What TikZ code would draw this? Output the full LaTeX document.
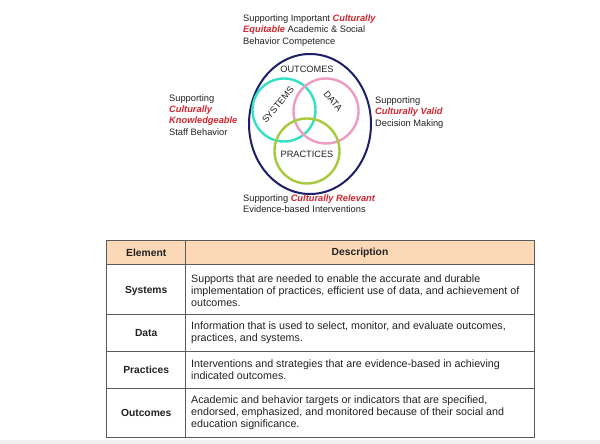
\documentclass[tikz,border=0pt]{standalone}
\usepackage{fontspec}
\setmainfont{Liberation Sans}
\definecolor{navy}{HTML}{1E1E6A}
\definecolor{cyanc}{HTML}{33E0C2}
\definecolor{pinkc}{HTML}{EE9CC2}
\definecolor{greenc}{HTML}{A9C93C}
\definecolor{redc}{HTML}{D42630}
\definecolor{peach}{HTML}{FBD8B6}
\definecolor{gridc}{HTML}{5A5A5A}
\definecolor{txt}{HTML}{222222}
\newcommand{\cul}[1]{\textcolor{redc}{\bfseries\itshape #1}}
\tikzset{
  ring/.style={line width=2.4pt},
  vlabel/.style={font=\fontsize{9.2}{10}\selectfont, text=txt, inner sep=0pt},
  side/.style={font=\fontsize{9.3}{11.3}\selectfont, text=txt, align=left, anchor=west, inner sep=0pt},
  cellbox/.style={draw=gridc, line width=0.8pt},
  headtxt/.style={font=\fontsize{10.3}{12}\selectfont\bfseries, text=txt, inner sep=0pt},
  elemtxt/.style={font=\fontsize{10.3}{12}\selectfont\bfseries, text=txt, inner sep=0pt},
  desctxt/.style={font=\fontsize{10.7}{12}\selectfont, text=txt, align=left, anchor=west, inner sep=0pt}
}
\begin{document}
\begin{tikzpicture}[x=1pt,y=-1pt]
\useasboundingbox (0,0) rectangle (600,444);
\fill[white] (0,0) rectangle (600,444);
\fill[gray!12] (0,440) rectangle (600,444);

% Venn diagram
\draw[navy, line width=2pt] (310,124) ellipse [x radius=61, y radius=70];
\draw[ring, cyanc] (284,110) circle [radius=31.5];
\draw[ring, pinkc] (326,111) circle [radius=32.5];
\draw[ring, greenc] (307,151) circle [radius=32.5];
\node[vlabel] (outl) at (307,69) {OUTCOMES};
\node[vlabel, rotate=50] (sysl) at (278,105) {SYSTEMS};
\node[vlabel, rotate=-50] (datl) at (333,101) {DATA};
\node[vlabel] (pral) at (307,154) {PRACTICES};

% surrounding texts
\node[side] (top) at (243,30.5) {Supporting Important \cul{Culturally}\\\cul{Equitable} Academic \& Social\\Behavior Competence};
\node[side] (left) at (169,115) {Supporting\\\cul{Culturally}\\\cul{Knowledgeable}\\Staff Behavior};
\node[side] (right) at (375,112.5) {Supporting\\\cul{Culturally Valid}\\Decision Making};
\node[side] (bottom) at (243,204) {Supporting \cul{Culturally Relevant}\\Evidence-based Interventions};

% table
\fill[peach] (106.7,240.7) rectangle (534.3,264.7);
\draw[cellbox] (106.7,240.7) rectangle (534.3,437.3);
\draw[cellbox] (185.7,240.7) -- (185.7,437.3);
\draw[cellbox] (106.7,264.7) -- (534.3,264.7);
\draw[cellbox] (106.7,314.3) -- (534.3,314.3);
\draw[cellbox] (106.7,351.7) -- (534.3,351.7);
\draw[cellbox] (106.7,388.3) -- (534.3,388.3);

\node[headtxt] (h1) at (146.2,252.7) {Element};
\node[headtxt] (h2) at (360,252.7) {Description};

\node[elemtxt] (e1) at (146.2,290.5) {Systems};
\node[elemtxt] (e2) at (146.2,333) {Data};
\node[elemtxt] (e3) at (146.2,370) {Practices};
\node[elemtxt] (e4) at (146.2,413) {Outcomes};

\node[desctxt] (d1) at (191,290.5) {Supports that are needed to enable the accurate and durable\\implementation of practices, efficient use of data, and achievement of\\outcomes.};
\node[desctxt] (d2) at (191,333) {Information that is used to select, monitor, and evaluate outcomes,\\practices, and systems.};
\node[desctxt] (d3) at (191,370) {Interventions and strategies that are evidence-based in achieving\\indicated outcomes.};
\node[desctxt] (d4) at (191,413) {Academic and behavior targets or indicators that are specified,\\endorsed, emphasized, and monitored because of their social and\\education significance.};
\end{tikzpicture}
\end{document}
